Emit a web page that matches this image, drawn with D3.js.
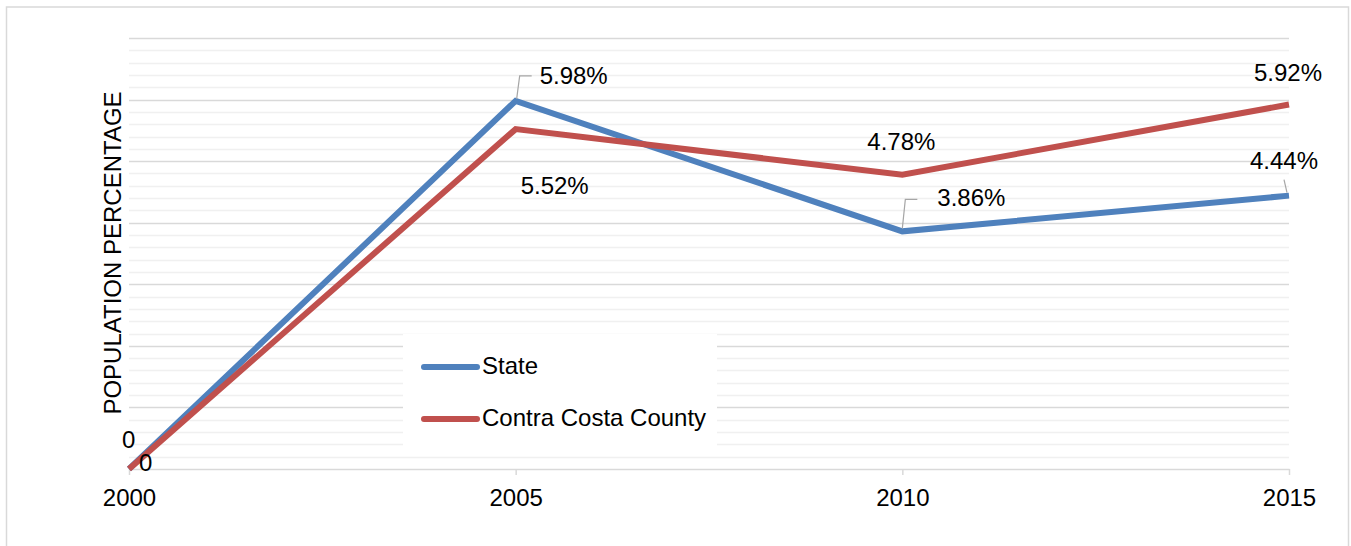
<!DOCTYPE html>
<html><head><meta charset="utf-8">
<script src="https://cdn.jsdelivr.net/npm/d3@7"></script>
<style>body{margin:0;background:#fff}svg{display:block}text{font-family:"Liberation Sans",Arial,sans-serif;fill:#000}</style>
</head><body>
<svg id="c" width="1351" height="546"></svg>
<script>
const years = [2000, 2005, 2010, 2015];
const stateVals = [0, 5.98, 3.86, 4.44];
const countyVals = [0, 5.52, 4.78, 5.92];
const seriesNames = ["State", "Contra Costa County"];
const seriesColors = ["#4f81bd", "#c0504d"];
const yTitle = "POPULATION PERCENTAGE";
const stateLabels = ["0", "5.98%", "3.86%", "4.44%"];
const countyLabels = ["0", "5.52%", "4.78%", "5.92%"];

const FS = 24;
const svg = d3.select("#c");
// outer border
svg.append("rect").attr("x", 6.5).attr("y", 7).attr("width", 1342).attr("height", 560)
  .attr("fill", "#fff").attr("stroke", "#d9d9d9").attr("stroke-width", 1.5);

const x = d3.scalePoint().domain(years).range([129, 1289]);
const y = d3.scaleLinear().domain([0, 7]).range([469, 38]);

// minor gridlines
const minor = d3.range(0, 7.01, 0.2).filter(v => Math.abs(v - Math.round(v)) > 0.01);
svg.append("g").selectAll("line").data(minor).join("line")
  .attr("x1", 129).attr("x2", 1289).attr("y1", d => Math.round(y(d)) + 0.5).attr("y2", d => Math.round(y(d)) + 0.5)
  .attr("stroke", "#f0f0f0").attr("stroke-width", 1.5);
// major gridlines
svg.append("g").selectAll("line").data(d3.range(1, 8)).join("line")
  .attr("x1", 129).attr("x2", 1289).attr("y1", d => Math.round(y(d)) + 0.5).attr("y2", d => Math.round(y(d)) + 0.5)
  .attr("stroke", "#d9d9d9").attr("stroke-width", 1.5);

// x axis
const xAxis = d3.axisBottom(x).tickSizeInner(6).tickSizeOuter(0).tickPadding(14);
const gx = svg.append("g").attr("transform", `translate(0,${y(0)})`).call(xAxis);
gx.select(".domain").attr("stroke", "#d9d9d9").attr("stroke-width", 1.5);
gx.selectAll(".tick line").attr("stroke", "#d9d9d9").attr("stroke-width", 1.5);
gx.selectAll(".tick text").attr("font-size", FS).attr("font-family", "Liberation Sans, Arial, sans-serif").attr("fill", "#000");

// y title
svg.append("text").attr("transform", `translate(121,253) rotate(-90)`).attr("text-anchor", "middle")
  .attr("font-size", FS).text(yTitle);

const line = d3.line().x((d, i) => x(years[i])).y(d => y(d));
[stateVals, countyVals].forEach((vals, k) => {
  svg.append("path").datum(vals).attr("d", line).attr("fill", "none")
    .attr("stroke", seriesColors[k]).attr("stroke-width", 6).attr("stroke-linejoin", "miter");
});

// leader lines
const leaders = [
  [[x(2005) + 1, y(5.98) - 2], [x(2005) + 4, y(5.98) - 25], [x(2005) + 16, y(5.98) - 25]],
  [[x(2010) + 0, y(3.86) - 3], [x(2010) + 3, y(3.86) - 32], [x(2010) + 15, y(3.86) - 32]],
  [[x(2015) - 2, y(4.44) - 3], [x(2015) - 5, y(4.44) - 16]]
];
leaders.forEach(p => svg.append("path").attr("d", d3.line()(p)).attr("fill", "none").attr("stroke", "#a6a6a6").attr("stroke-width", 1.2));

// data labels
const lab = (t, px, py, anchor) => svg.append("text").attr("x", px).attr("y", py).attr("font-size", FS)
  .attr("text-anchor", anchor || "start").attr("dominant-baseline", "middle").text(t);
lab(stateLabels[0], x(2000) - 7, y(0) - 27);
lab(countyLabels[0], x(2000) + 10, y(0) - 4);
lab(stateLabels[1], x(2005) + 24, y(5.98) - 23);
lab(countyLabels[1], x(2005) + 5, y(5.52) + 59);
lab(stateLabels[2], x(2010) + 35, y(3.86) - 32);
lab(countyLabels[2], x(2010) - 35, y(4.78) - 31);
lab(stateLabels[3], x(2015) - 39, y(4.44) - 33);
lab(countyLabels[3], x(2015) - 35, y(5.92) - 30);

// legend
const lg = svg.append("g");
lg.append("rect").attr("x", 403).attr("y", 334).attr("width", 314).attr("height", 122).attr("fill", "#fff");
seriesNames.forEach((n, i) => {
  const ly = 367 + i * 52;
  lg.append("line").attr("x1", 424).attr("x2", 477).attr("y1", ly).attr("y2", ly)
    .attr("stroke", seriesColors[i]).attr("stroke-width", 6).attr("stroke-linecap", "round");
  lg.append("text").attr("x", 482).attr("y", ly + 1).attr("dominant-baseline", "middle").attr("font-size", FS).text(n);
});
</script>
</body></html>
